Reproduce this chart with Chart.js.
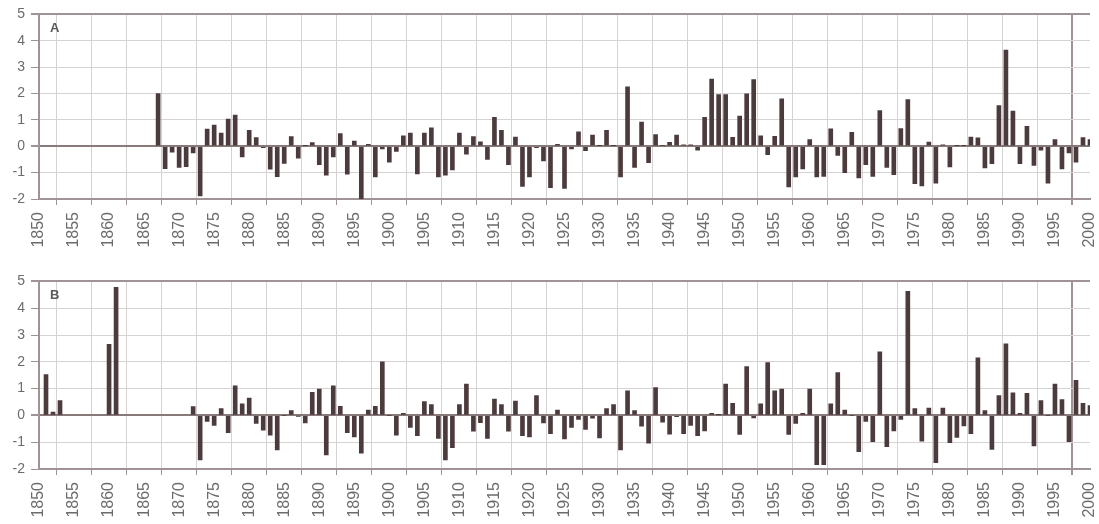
<!DOCTYPE html>
<html>
<head>
<meta charset="utf-8">
<script src="https://cdn.jsdelivr.net/npm/chart.js@4.4.1/dist/chart.umd.min.js"></script>
<style>
  html, body { margin: 0; padding: 0; background: #ffffff; }
  .panel { position: absolute; left: 0; width: 1099px; }
  #panelA { top: 0; height: 254px; }
  #panelB { top: 267px; height: 257px; }
</style>
</head>
<body>
<div class="panel" id="panelA"><canvas id="chartA"></canvas></div>
<div class="panel" id="panelB"><canvas id="chartB"></canvas></div>
<script>
// Yearly anomaly series, 1850-2000 (null = no record for that year)
const firstYear = 1850;
const lastYear = 2000;

const seriesA = [
  null, null, null, null, null, null, null, null, null, null,          // 1850s
  null, null, null, null, null, null, null, 2.0, -0.85, -0.22,        // 1860s
  -0.8, -0.77, -0.25, -1.88, 0.65, 0.8, 0.5, 1.03, 1.18, -0.4,        // 1870s
  0.6, 0.33, -0.05, -0.87, -1.15, -0.65, 0.37, -0.45, 0.02, 0.14,     // 1880s
  -0.7, -1.1, -0.4, 0.48, -1.06, 0.2, -2.0, 0.07, -1.16, -0.1,        // 1890s
  -0.6, -0.2, 0.4, 0.5, -1.05, 0.5, 0.7, -1.16, -1.1, -0.9,           // 1900s
  0.5, -0.3, 0.37, 0.17, -0.5, 1.1, 0.6, -0.7, 0.35, -1.52,           // 1910s
  -1.16, -0.05, -0.56, -1.57, 0.07, -1.6, -0.1, 0.55, -0.17, 0.42,    // 1920s
  0.02, 0.6, 0.02, -1.16, 2.25, -0.8, 0.92, -0.62, 0.44, 0.03,        // 1930s
  0.15, 0.42, 0.05, 0.05, -0.15, 1.1, 2.55, 1.96, 1.96, 0.34,         // 1940s
  1.14, 1.99, 2.53, 0.4, -0.32, 0.38, 1.8, -1.54, -1.16, -0.86,       // 1950s
  0.25, -1.16, -1.14, 0.66, -0.35, -1.0, 0.53, -1.2, -0.7, -1.14,     // 1960s
  1.35, -0.8, -1.08, 0.67, 1.77, -1.42, -1.5, 0.16, -1.4, 0.05,       // 1970s
  -0.78, 0.02, 0.02, 0.35, 0.32, -0.82, -0.66, 1.54, 3.65, 1.33,      // 1980s
  -0.66, 0.76, -0.73, -0.15, -1.4, 0.25, -0.86, -0.25, -0.6, 0.33,    // 1990s
  0.25                                                                // 2000
];

const seriesB = [
  null, 1.52, 0.12, 0.55, null, null, null, null, null, null,         // 1850s
  2.65, 4.78, null, null, null, null, null, null, null, null,         // 1860s
  null, null, 0.33, -1.66, -0.22, -0.37, 0.25, -0.64, 1.1, 0.43,      // 1870s
  0.65, -0.3, -0.55, -0.74, -1.29, 0.0, 0.18, -0.03, -0.28, 0.86,     // 1880s
  0.98, -1.47, 1.1, 0.34, -0.64, -0.8, -1.41, 0.2, 0.34, 2.0,         // 1890s
  0.0, -0.74, 0.08, -0.45, -0.76, 0.52, 0.4, -0.86, -1.66, -1.2,      // 1900s
  0.4, 1.17, -0.59, -0.27, -0.86, 0.61, 0.4, -0.59, 0.53, -0.76,      // 1910s
  -0.8, 0.74, -0.28, -0.68, 0.2, -0.88, -0.45, -0.15, -0.52, -0.1,    // 1920s
  -0.84, 0.25, 0.4, -1.29, 0.92, 0.18, -0.4, -1.04, 1.04, -0.25,      // 1930s
  -0.7, -0.05, -0.68, -0.37, -0.76, -0.58, 0.08, 0.02, 1.17, 0.45,    // 1940s
  -0.71, 1.82, -0.09, 0.43, 1.97, 0.92, 0.98, -0.71, -0.3, 0.08,      // 1950s
  0.98, -1.84, -1.84, 0.43, 1.6, 0.2, 0.0, -1.35, -0.22, -0.98,       // 1960s
  2.37, -1.17, -0.58, -0.15, 4.63, 0.25, -0.96, 0.27, -1.76, 0.27,    // 1970s
  -1.02, -0.82, -0.39, -0.68, 2.15, 0.18, -1.27, 0.74, 2.67, 0.84,    // 1980s
  0.08, 0.82, -1.14, 0.55, 0.0, 1.17, 0.59, -0.98, 1.31, 0.45,        // 1990s
  0.37                                                                // 2000
];

const panelLabels = ['A', 'B'];
const yTickValues = [5, 4, 3, 2, 1, 0, -1, -2];
const xTickStep = 5;

const years = [];
for (let y = firstYear; y <= lastYear; y++) years.push(y);

const BAR = '#4c3b3d';
const FRAME = '#a09395';
const GRID = '#d4d2d2';
const ZERO = '#887a7b';
const TEXT = '#6c6c6c';
const FONT = '"Liberation Sans", Arial, sans-serif';

const panelLetter = {
  id: 'panelLetter',
  afterDraw(chart, args, opts) {
    const { ctx, chartArea } = chart;
    ctx.save();
    ctx.font = 'bold 13px ' + FONT;
    ctx.fillStyle = '#5a5a5a';
    ctx.textBaseline = 'middle';
    ctx.fillText(opts.text, chartArea.left + 11, chartArea.top + 14);
    ctx.restore();
  }
};

function makeChart(canvasId, values, letter) {
  const points = years.map((yr, i) => ({ x: yr, y: values[i] }));
  return new Chart(document.getElementById(canvasId), {
    type: 'bar',
    data: {
      datasets: [{
        data: points,
        backgroundColor: BAR,
        borderWidth: 0,
        barThickness: 4
      }]
    },
    plugins: [panelLetter],
    options: {
      responsive: true,
      maintainAspectRatio: false,
      animation: false,
      layout: { padding: { top: 14, right: 9, left: 0, bottom: 0 } },
      plugins: {
        legend: { display: false },
        tooltip: { enabled: false },
        panelLetter: { text: letter }
      },
      scales: {
        x: {
          type: 'linear',
          min: firstYear,
          max: lastYear,
          offset: false,
          afterFit(scale) {
            scale.height = 55;
            scale.paddingLeft = 0;
            scale.paddingRight = 0;
          },
          ticks: {
            stepSize: xTickStep,
            autoSkip: false,
            minRotation: 90,
            maxRotation: 90,
            padding: 7,
            color: TEXT,
            font: { family: FONT, size: 16 },
            callback: (v) => String(v)
          },
          grid: {
            color: (c) => (c.tick && c.tick.value === lastYear ? FRAME : GRID),
            lineWidth: (c) => (c.tick && c.tick.value === lastYear ? 2 : 1),
            tickColor: FRAME,
            tickLength: 6
          },
          border: { color: FRAME, width: 2 }
        },
        y: {
          min: -2,
          max: 5,
          afterFit(scale) { scale.width = 39; },
          afterBuildTicks(scale) { scale.ticks = yTickValues.map(v => ({ value: v })); },
          ticks: {
            stepSize: 1,
            padding: 6,
            color: TEXT,
            font: { family: FONT, size: 14 }
          },
          grid: {
            color: (c) => {
              const v = c.tick && c.tick.value;
              if (v === 0) return ZERO;
              if (v === 5) return FRAME;
              return GRID;
            },
            lineWidth: (c) => {
              const v = c.tick && c.tick.value;
              return (v === 0 || v === 5) ? 2 : 1;
            },
            tickColor: FRAME,
            tickLength: 8
          },
          border: { color: FRAME, width: 2 }
        }
      }
    }
  });
}

makeChart('chartA', seriesA, panelLabels[0]);
makeChart('chartB', seriesB, panelLabels[1]);
</script>
</body>
</html>
